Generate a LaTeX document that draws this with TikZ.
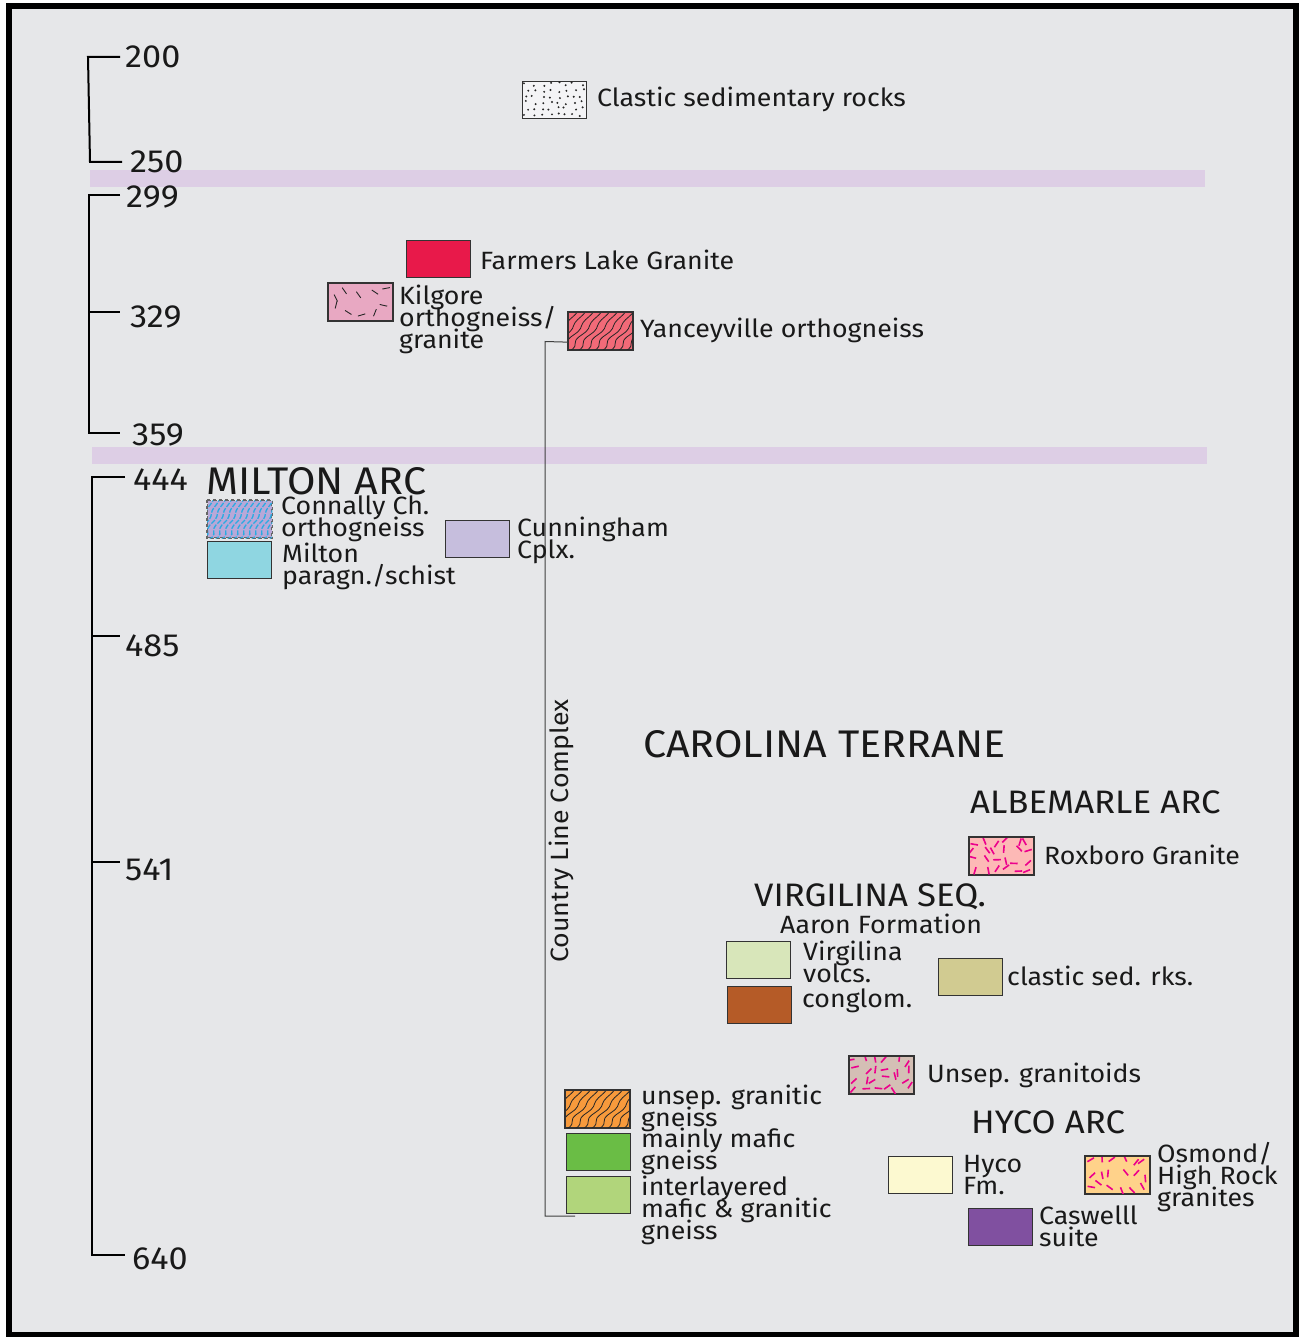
\documentclass[tikz,border=0pt]{standalone}
\usepackage{fontspec}
\setmainfont{Fira Sans}
\newfontfamily\wfont{Fira Sans}[FakeStretch=1.07]
\newcommand\lblfont{\wfont\fontsize{25}{22}\selectfont\lineskiplimit -60pt\lineskip 0pt\relax}
\definecolor{bggrey}{HTML}{E6E7E9}
\definecolor{band}{HTML}{DDCEE5}
\definecolor{dotbg}{HTML}{F4F4F6}
\definecolor{farmers}{HTML}{E8194A}
\definecolor{kilgore}{HTML}{E8A8C2}
\definecolor{yance}{HTML}{F26A78}
\definecolor{connally}{HTML}{B8A8D8}
\definecolor{clcyan}{HTML}{29ABE2}
\definecolor{milton}{HTML}{8FD6E1}
\definecolor{cunning}{HTML}{C6BEDD}
\definecolor{roxboro}{HTML}{FDB9B6}
\definecolor{magen}{HTML}{EC008C}
\definecolor{virgvol}{HTML}{D8E6BA}
\definecolor{conglom}{HTML}{B55B27}
\definecolor{clastsed}{HTML}{D1CB91}
\definecolor{unsepgr}{HTML}{D4BFB5}
\definecolor{hyco}{HTML}{FCF9D0}
\definecolor{osmond}{HTML}{FFD28A}
\definecolor{caswell}{HTML}{8050A0}
\definecolor{ugg}{HTML}{F79A3C}
\definecolor{mafic}{HTML}{6ABD45}
\definecolor{interl}{HTML}{B1D57B}
% jittered grid of short dashes: node, style, cols, rows, seed
\newcommand\mydashfill[5]{%
  \begin{scope}
    \clip (#1.north west) rectangle (#1.south east);
    \begin{scope}[shift={(#1.north west)}]
      \pgfmathsetseed{#5}
      \pgfmathsetmacro\dx{64/#3}%
      \pgfmathsetmacro\dy{37/#4}%
      \foreach \i in {1,...,#3}{%
        \foreach \j in {1,...,#4}{%
          \pgfmathsetmacro\px{(\i-0.5)*\dx+(rnd-0.5)*\dx*0.7}%
          \pgfmathsetmacro\py{(\j-0.5)*\dy+(rnd-0.5)*\dy*0.7}%
          \pgfmathsetmacro\pa{rnd*180}%
          \draw[#2] (\px,\py) ++(\pa:3.8) -- ++(\pa+180:7.6);
        }
      }
    \end{scope}
  \end{scope}}
\newcommand\mydotfill[2]{%
  \begin{scope}
    \clip (#1.north west) rectangle (#1.south east);
    \begin{scope}[shift={(#1.north west)}]
      \pgfmathsetseed{#2}
      \foreach \i in {1,...,8}{%
        \foreach \j in {1,...,6}{%
          \pgfmathsetmacro\px{(\i-0.5)*8+(rnd-0.5)*5}%
          \pgfmathsetmacro\py{(\j-0.5)*6.1+(rnd-0.5)*4}%
          \fill[black!85] (\px,\py) circle (1.1);
        }
      }
    \end{scope}
  \end{scope}}
% wavy foliation lines: node, style, spacing, slope-run, amplitude
\newcommand\mywavefill[5]{%
  \begin{scope}
    \clip (#1.north west) rectangle (#1.south east);
    \begin{scope}[shift={(#1.north west)}]
      \pgfmathtruncatemacro\sstep{-40+#3}%
      \foreach \s in {-40,\sstep,...,70}{%
        \draw[#2] plot[smooth, domain=0:1, samples=16] ({\s + #4*\x + #5*(1.2-\x)*sin(900*\x)}, {40 - 44*\x});
      }
    \end{scope}
  \end{scope}}
\tikzset{
  box/.style={draw=black!80, line width=1.3pt, minimum width=64pt, minimum height=37pt, inner sep=0pt, anchor=north west},
  lbl/.style={anchor=west, inner sep=0pt, align=left, font=\lblfont, text=black!90},
  ttl/.style={anchor=west, inner sep=0pt, font=\wfont\fontsize{32.5}{33}\selectfont, text=black!90},
  bigttl/.style={anchor=west, inner sep=0pt, font=\wfont\fontsize{38.5}{39}\selectfont, text=black!90},
  num/.style={anchor=base west, inner sep=0pt, font=\wfont\fontsize{32}{33}\selectfont, text=black!90},
  tl/.style={line width=2pt, black},
  tick/.style={line width=1.3pt, black},
  kdash/.style={black!85, line width=0.9pt},
  mdash/.style={magen, line width=1.6pt},
  wblack/.style={black!85, line width=0.8pt},
  wcyan/.style={clcyan, line width=1.3pt, dash pattern=on 5pt off 1.5pt},
}
\begin{document}
\begin{tikzpicture}[x=1pt,y=-1pt]
\useasboundingbox (0,0) rectangle (1299,1337);
\fill[white] (0,0) rectangle (1299,1337);
\draw[line width=5.5pt, fill=bggrey] (9.2,5.8) rectangle (1296,1335);

% purple bands
\fill[band] (90,170) rectangle (1205,187);
\fill[band] (92,447) rectangle (1207,464);

% timeline brackets
\coordinate (a1) at (88,57);   \coordinate (a2) at (90,162);
\draw[tl] ([xshift=32pt]a1) -- (a1) -- (a2) -- ([xshift=32pt]a2);
\coordinate (b1) at (89,195);  \coordinate (b2) at (89,433);
\draw[tl] ([xshift=31pt]b1) -- (b1) -- (b2) -- ([xshift=31pt]b2);
\draw[tick] (89,312) -- (120,312);
\coordinate (c1) at (92,477);  \coordinate (c2) at (92,1255);
\draw[tl] ([xshift=33pt]c1) -- (c1) -- (c2) -- ([xshift=33pt]c2);
\draw[tick] (92,636) -- (120,636);
\draw[tick] (92,862) -- (120,862);

\node[num] (n200) at (125,68) {200};
\node[num] (n250) at (130,173) {250};
\node[num] (n299) at (126,208) {299};
\node[num] (n329) at (130,327) {329};
\node[num] (n359) at (132,445) {359};
\node[num] (n444) at (133,490) {444};
\node[num] (n485) at (125,656) {485};
\node[num] (n541) at (125,880) {541};
\node[num] (n640) at (132,1269) {640};

% boxes
\node[box, fill=dotbg] (clastic) at (522,81) {};
\mydotfill{clastic}{3}
\node[lbl] (tclastic) at (597,99) {Clastic sedimentary rocks};

\node[box, fill=farmers] (farm) at (406,240) {};
\node[lbl] (tfarm) at (480,260) {Farmers Lake Granite};

\node[box, fill=kilgore] (kil) at (328,283) {};
\mydashfill{kil}{kdash}{5}{2}{11}
\draw[black!80, line width=1.3pt] (kil.north west) rectangle (kil.south east);
\node[lbl] (tkil) at (399,319) {Kilgore\\orthogneiss/\\granite};

\node[box, fill=yance] (yan) at (568,312) {};
\mywavefill{yan}{wblack}{8}{36}{2.2}
\draw[black!80, line width=1.3pt] (yan.north west) rectangle (yan.south east);
\node[lbl] (tyan) at (640,330) {Yanceyville orthogneiss};

% Country Line Complex bracket
\coordinate (clcb) at (575,1216);
\draw[black!75, line width=1pt] ([yshift=-11pt]yan.west) -- (545,341.5) -- (545,1216) -- (clcb);
\node[lbl, anchor=center, rotate=90] (tclc) at (561,831) {Country Line Complex};

% Milton arc
\node[bigttl] (milton) at (206,481) {MILTON ARC};
\node[box, fill=connally, draw=black!60, dashed] (con) at (207,500) {};
\mywavefill{con}{wcyan}{6}{24}{1.8}
\draw[black!60, line width=1.3pt, dashed] (con.north west) rectangle (con.south east);
\node[lbl] (tcon) at (281,519) {Connally Ch.\\orthogneiss};
\node[box, fill=milton] (mil) at (207,541) {};
\node[lbl] (tmil) at (282,566) {Milton\\paragn./schist};
\node[box, fill=cunning] (cun) at (445,520) {};
\node[lbl] (tcun) at (517,540) {Cunningham\\Cplx.};

% Carolina terrane
\node[bigttl] (carolina) at (643,744) {CAROLINA TERRANE};
\node[ttl] (albemarle) at (970,802) {ALBEMARLE ARC};
\node[box, fill=roxboro] (rox) at (969,837) {};
\mydashfill{rox}{mdash}{6}{4}{5}
\draw[black!80, line width=1.3pt] (rox.north west) rectangle (rox.south east);
\node[lbl] (trox) at (1044,855) {Roxboro Granite};

\node[ttl] (virg) at (754,897) {VIRGILINA SEQ.};
\node[lbl] (aaron) at (780,924) {Aaron Formation};
\node[box, fill=virgvol] (vv) at (726,941) {};
\node[lbl] (tvv) at (803,962) {Virgilina\\volcs.};
\node[box, fill=conglom] (cg) at (727,986) {};
\node[lbl] (tcg) at (802,1001) {conglom.};
\node[box, fill=clastsed] (cs) at (938,958) {};
\node[lbl] (tcs) at (1007,976) {clastic sed. rks.};

\node[box, fill=unsepgr] (ug) at (849,1056) {};
\mydashfill{ug}{mdash}{6}{4}{23}
\draw[black!80, line width=1.3pt] (ug.north west) rectangle (ug.south east);
\node[lbl] (tug) at (927,1075) {Unsep. granitoids};

\node[ttl] (hycoarc) at (971,1122) {HYCO ARC};
\node[box, fill=hyco] (hy) at (888,1156) {};
\node[lbl] (thy) at (963,1175) {Hyco\\Fm.};
\node[box, fill=osmond] (os) at (1085,1156) {};
\mydashfill{os}{mdash}{6}{3}{41}
\draw[black!80, line width=1.3pt] (os.north west) rectangle (os.south east);
\node[lbl] (tos) at (1157,1177) {Osmond/\\High Rock\\granites};
\node[box, fill=caswell] (cw) at (968,1208) {};
\node[lbl] (tcw) at (1039,1226) {Caswelll\\suite};

% Country Line units
\node[box, fill=ugg] (ugn) at (565,1090) {};
\mywavefill{ugn}{wblack}{8}{36}{2.2}
\draw[black!80, line width=1.3pt] (ugn.north west) rectangle (ugn.south east);
\node[lbl] (tugn) at (641,1108) {unsep. granitic\\gneiss};
\node[box, fill=mafic] (maf) at (566,1133) {};
\node[lbl] (tmaf) at (641,1151) {mainly mafic\\gneiss};
\node[box, fill=interl] (int) at (566,1176) {};
\node[lbl] (tint) at (641,1210) {interlayered\\mafic \& granitic\\gneiss};
\end{tikzpicture}
\end{document}
